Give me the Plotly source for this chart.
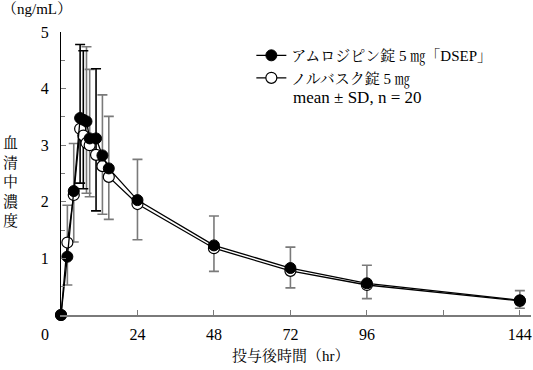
import plotly.graph_objects as go

# ---- data ----
times = [0, 2, 4, 6, 7, 8, 9, 11, 13, 15, 24, 48, 72, 96, 144]
conc_test = [0, 1.03, 2.19, 3.48, 3.45, 3.42, 3.12, 3.12, 2.82, 2.59, 2.03, 1.23, 0.83, 0.56, 0.26]
conc_ref = [0, 1.28, 2.12, 3.29, 3.17, 3.04, 3.00, 2.83, 2.63, 2.44, 1.96, 1.18, 0.78, 0.53, 0.25]
sd_plus = [0, 0.91, 0.84, 1.30, 1.22, 1.32, 1.22, 1.23, 1.07, 0.92, 0.72, 0.52, 0.37, 0.32, 0.17]
sd_minus = [0, 0.50, 0.90, 1.15, 1.22, 1.27, 1.03, 1.28, 1.04, 0.90, 0.70, 0.46, 0.35, 0.27, 0.14]
bar_dark = [False, False, False, True, True, False, False, True, False, False, False, False, False, False, False]

name_test = "アムロジピン錠 5 ㎎「DSEP」"
name_ref = "ノルバスク錠 5 ㎎"
note = "mean ± SD, n = 20"
x_tickvals = [0, 24, 48, 72, 96, 120, 144]
x_ticktext = ["", "24", "48", "72", "96", "", "144"]
y_tickvals = [0, 1, 2, 3, 4, 5]
y_ticktext = ["", "1", "2", "3", "4", "5"]

FONT = "Liberation Serif, Noto Serif CJK JP, Noto Sans CJK JP, serif"
GRAY = "#7a7a7a"

fig = go.Figure()

# error bars (drawn beneath the markers)
for dark, col in ((False, GRAY), (True, "#000000")):
    idx = [i for i, d in enumerate(bar_dark) if d == dark and i > 0]
    fig.add_trace(go.Scatter(
        x=[times[i] for i in idx], y=[conc_test[i] for i in idx],
        mode="markers", marker=dict(size=1, color="rgba(0,0,0,0)"),
        error_y=dict(type="data", symmetric=False,
                     array=[sd_plus[i] for i in idx],
                     arrayminus=[sd_minus[i] for i in idx],
                     color=col, thickness=1.6, width=5),
        showlegend=False, hoverinfo="skip", cliponaxis=False))

fig.add_trace(go.Scatter(
    x=times, y=conc_ref, name=name_ref, mode="lines+markers",
    line=dict(color="black", width=1.3),
    marker=dict(symbol="circle", size=11, color="white", line=dict(color="black", width=1.2)),
    cliponaxis=False))
fig.add_trace(go.Scatter(
    x=times, y=conc_test, name=name_test, mode="lines+markers",
    line=dict(color="black", width=1.3),
    marker=dict(symbol="circle", size=11, color="black", line=dict(color="black", width=1)),
    cliponaxis=False))

fig.update_layout(
    width=533, height=370,
    margin=dict(l=61, r=2, t=32, b=55, autoexpand=False),
    paper_bgcolor="white", plot_bgcolor="white",
    font=dict(family=FONT, size=16, color="black"),
    showlegend=True,
    legend=dict(x=0.405, y=0.975, xanchor="left", yanchor="top",
                traceorder="reversed", font=dict(size=15, family=FONT),
                bgcolor="rgba(0,0,0,0)", itemwidth=30, tracegroupgap=0),
    xaxis=dict(range=[0, 147.5], showgrid=False, zeroline=False, automargin=False,
               showline=True, linecolor=GRAY, linewidth=1.5,
               tickmode="array", tickvals=x_tickvals, ticktext=x_ticktext,
               ticks="inside", ticklen=5, tickcolor=GRAY, tickwidth=1.2,
               ticklabelstandoff=4, tickfont=dict(size=16)),
    yaxis=dict(range=[0, 5], showgrid=False, zeroline=False, automargin=False,
               showline=True, linecolor="black", linewidth=1.2,
               tickmode="array", tickvals=y_tickvals, ticktext=y_ticktext,
               ticks="inside", ticklen=5, tickcolor=GRAY, tickwidth=1.2,
               minor=dict(dtick=0.5, ticks="inside", ticklen=4, tickcolor=GRAY, tickwidth=1.2),
               ticklabelstandoff=8, tickfont=dict(size=16)),
)

fig.add_annotation(xref="x", yref="y", x=0, y=0, xshift=-16, yshift=-19, text="0",
                   showarrow=False, font=dict(size=16, family=FONT))
fig.add_annotation(xref="paper", yref="paper", x=0.49, y=0.768, xanchor="left", yanchor="middle",
                   text=note, showarrow=False, font=dict(size=17, family=FONT))
fig.add_annotation(xref="paper", yref="paper", x=-0.13, y=1.045, xanchor="left", yanchor="bottom",
                   text="（ng/mL）", showarrow=False, font=dict(size=15, family=FONT))
fig.add_annotation(xref="paper", yref="paper", x=-0.108, y=0.47, xanchor="center", yanchor="middle",
                   text="血<br>清<br>中<br>濃<br>度", showarrow=False,
                   font=dict(size=15, family=FONT))
fig.add_annotation(xref="paper", yref="paper", x=0.49, y=-0.105, xanchor="center", yanchor="top",
                   text="投与後時間（hr）", showarrow=False, font=dict(size=15, family=FONT))

fig.write_html("out.html", config={"displayModeBar": False},
               post_script="document.body.style.margin='0';document.body.style.padding='0';")
